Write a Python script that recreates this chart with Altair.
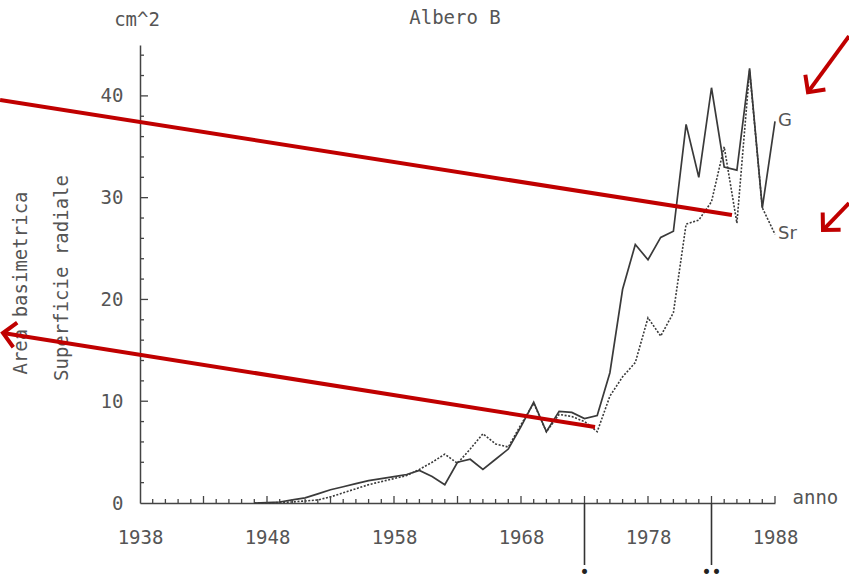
import math
import altair as alt
import pandas as pd

# ---- series: basal area (G) and radial surface (Sr), cm^2 per year ----
years = list(range(1947, 1989))
g_area = [0.0, 0.05, 0.1, 0.3, 0.5, 0.9, 1.3, 1.6, 1.9, 2.2,
          2.4, 2.6, 2.8, 3.2, 2.6, 1.8, 4.0, 4.3, 3.3, 4.3,
          5.3, 7.5, 9.9, 7.0, 9.0, 8.9, 8.3, 8.6, 12.8, 21.0,
          25.4, 23.9, 26.1, 26.7, 37.2, 32.0, 40.8, 33.0, 32.7, 42.7,
          29.0, 37.5]
sr_area = [0.0, 0.0, 0.05, 0.1, 0.2, 0.3, 0.6, 1.0, 1.4, 1.8,
           2.1, 2.4, 2.7, 3.3, 4.0, 4.8, 3.9, 5.3, 6.8, 5.8,
           5.5, 7.7, 9.8, 7.0, 8.7, 8.5, 8.0, 7.0, 10.5, 12.4,
           13.8, 18.2, 16.4, 18.7, 27.4, 27.8, 29.6, 35.0, 27.5, 42.5,
           29.0, 26.4]

x_labels = [1938, 1948, 1958, 1968, 1978, 1988]
y_labels = [0, 10, 20, 30, 40]

# event years marked below the time axis
event_years = [1973, 1983]
event_marks = ["•", "••"]

# red pointer lines (year, cm^2): tail -> tip
pointer_tail_x = [1926.98, 1973.83, 1993.83, 1993.83]
pointer_tail_y = [39.59, 7.47, 45.87, 29.47]
pointer_tip_x = [1984.61, 1927.21, 1990.60, 1991.78]
pointer_tip_y = [28.29, 16.70, 40.37, 26.82]
pointer_head = [False, True, True, True]

X0, X1 = 1938, 1988
Y0, Y1 = 0, 45
W, H = 635, 458

FONT = "DejaVu Sans Mono"
INK = "#3a3a3a"
TXT = "#555555"
RED = "#c00000"

xs = alt.Scale(domain=[X0, X1], nice=False, zero=False)
ys = alt.Scale(domain=[Y0, Y1], nice=False, zero=False)

g_df = pd.DataFrame({"year": years, "val": g_area})
sr_df = pd.DataFrame({"year": years, "val": sr_area})

x_axis = alt.Axis(values=x_labels, format="d", grid=False, ticks=False, tickSize=0,
                  labelFlush=False, labelOverlap=False,
                  labelFont=FONT, labelFontSize=19, labelColor=TXT, labelPadding=25,
                  domainColor="#444444", domainWidth=1.5,
                  title="anno", titleFont=FONT, titleFontSize=19, titleFontWeight="normal",
                  titleColor=TXT, titleX=652, titleY=-6, titleAlign="left",
                  titleBaseline="middle")
y_axis = alt.Axis(values=y_labels, format="d", grid=False, ticks=False, tickSize=0,
                  labelFlush=False, labelOverlap=False,
                  labelFont=FONT, labelFontSize=19, labelColor=TXT, labelPadding=17,
                  domainColor="#444444", domainWidth=1.5, title=None)

g_line = alt.Chart(g_df).mark_line(color=INK, strokeWidth=1.7).encode(
    x=alt.X("year:Q", scale=xs, axis=x_axis),
    y=alt.Y("val:Q", scale=ys, axis=y_axis),
)
sr_line = alt.Chart(sr_df).mark_line(color=INK, strokeWidth=1.6, strokeDash=[2, 1.6]).encode(
    x=alt.X("year:Q", scale=xs),
    y=alt.Y("val:Q", scale=ys),
)

# series names at the end of each line
end_df = pd.DataFrame({"year": [years[-1], years[-1]],
                       "val": [g_area[-1], sr_area[-1]],
                       "name": ["G", "Sr"]})
end_labels = alt.Chart(end_df).mark_text(font="DejaVu Sans", fontSize=18, color=TXT,
                                         align="left", baseline="middle", dx=3).encode(
    x=alt.X("year:Q", scale=xs), y=alt.Y("val:Q", scale=ys), text="name:N")

# inward tick marks
ty_minor = pd.DataFrame({"v": [v for v in range(2, 45, 2) if v % 10]})
ty_major = pd.DataFrame({"v": [10, 20, 30, 40]})
tx_minor = pd.DataFrame({"v": [y for y in range(1939, 1989) if (y - 1938) % 5]})
tx_major = pd.DataFrame({"v": [y for y in range(1943, 1989, 5)]})

tick_style = dict(color="#444444", strokeWidth=1.3)
y_ticks_minor = alt.Chart(ty_minor).mark_rule(**tick_style).encode(
    y=alt.Y("v:Q", scale=ys), x=alt.value(0), x2=alt.value(4))
y_ticks_major = alt.Chart(ty_major).mark_rule(**tick_style).encode(
    y=alt.Y("v:Q", scale=ys), x=alt.value(0), x2=alt.value(8))
x_ticks_minor = alt.Chart(tx_minor).mark_rule(**tick_style).encode(
    x=alt.X("v:Q", scale=xs), y=alt.value(H), y2=alt.value(H - 4))
x_ticks_major = alt.Chart(tx_major).mark_rule(**tick_style).encode(
    x=alt.X("v:Q", scale=xs), y=alt.value(H), y2=alt.value(H - 7))

# event markers hanging below the axis
ev_df = pd.DataFrame({"year": event_years, "mark": event_marks})
ev_lines = alt.Chart(ev_df).mark_rule(color="#333333", strokeWidth=1.6).encode(
    x=alt.X("year:Q", scale=xs), y=alt.value(H), y2=alt.value(H + 62))
ev_dots = alt.Chart(ev_df).mark_text(font="DejaVu Sans", fontSize=17, color="#222222",
                                     baseline="middle").encode(
    x=alt.X("year:Q", scale=xs), y=alt.value(H + 70), text="mark:N")

# red pointers
ptr_df = pd.DataFrame({"x": pointer_tail_x, "y": pointer_tail_y,
                       "x2": pointer_tip_x, "y2": pointer_tip_y,
                       "head": pointer_head})
sx = W / (X1 - X0)
sy = H / (Y1 - Y0)
ptr_df["ang"] = [
    math.degrees(math.atan2(-(b2 - b1) * sy, (a2 - a1) * sx)) % 360
    for a1, b1, a2, b2 in zip(ptr_df.x, ptr_df.y, ptr_df.x2, ptr_df.y2)
]
ptr_lines = alt.Chart(ptr_df).mark_rule(color=RED, strokeWidth=4).encode(
    x=alt.X("x:Q", scale=xs), y=alt.Y("y:Q", scale=ys),
    x2="x2:Q", y2="y2:Q")
ptr_heads = alt.Chart(ptr_df[ptr_df["head"]]).mark_point(
    shape="M -1 -1 L 0 0 L -1 1", filled=False, color=RED, strokeWidth=4,
    size=620, opacity=1).encode(
    x=alt.X("x2:Q", scale=xs), y=alt.Y("y2:Q", scale=ys),
    angle=alt.Angle("ang:Q", scale=None))

# title, unit and axis captions
title_txt = alt.Chart(pd.DataFrame({"t": ["Albero B"]})).mark_text(
    font=FONT, fontSize=19, color=TXT, align="center", baseline="middle").encode(
    x=alt.value(315), y=alt.value(-27), text="t:N")
unit_txt = alt.Chart(pd.DataFrame({"t": ["cm^2"]})).mark_text(
    font=FONT, fontSize=19, color=TXT, align="center", baseline="middle").encode(
    x=alt.value(-3), y=alt.value(-25), text="t:N")
cap1 = alt.Chart(pd.DataFrame({"t": ["Area basimetrica"]})).mark_text(
    font=FONT, fontSize=19, color=TXT, angle=270,
    align="center", baseline="middle").encode(
    x=alt.value(-119), y=alt.value(238), text="t:N")
cap2 = alt.Chart(pd.DataFrame({"t": ["Superficie radiale"]})).mark_text(
    font=FONT, fontSize=19, color=TXT, angle=270,
    align="center", baseline="middle").encode(
    x=alt.value(-78), y=alt.value(233), text="t:N")

chart = alt.layer(
    g_line, sr_line,
    y_ticks_minor, y_ticks_major, x_ticks_minor, x_ticks_major,
    ev_lines, ev_dots, end_labels,
    title_txt, unit_txt, cap1, cap2,
    ptr_lines, ptr_heads,
).properties(
    width=W, height=H,
    autosize=alt.AutoSizeParams(type="none"),
    padding={"left": 140, "top": 45, "right": 74, "bottom": 79},
    background="white",
).configure_view(stroke=None)

chart.save("out.html", embed_options={"renderer": "svg", "actions": False})
